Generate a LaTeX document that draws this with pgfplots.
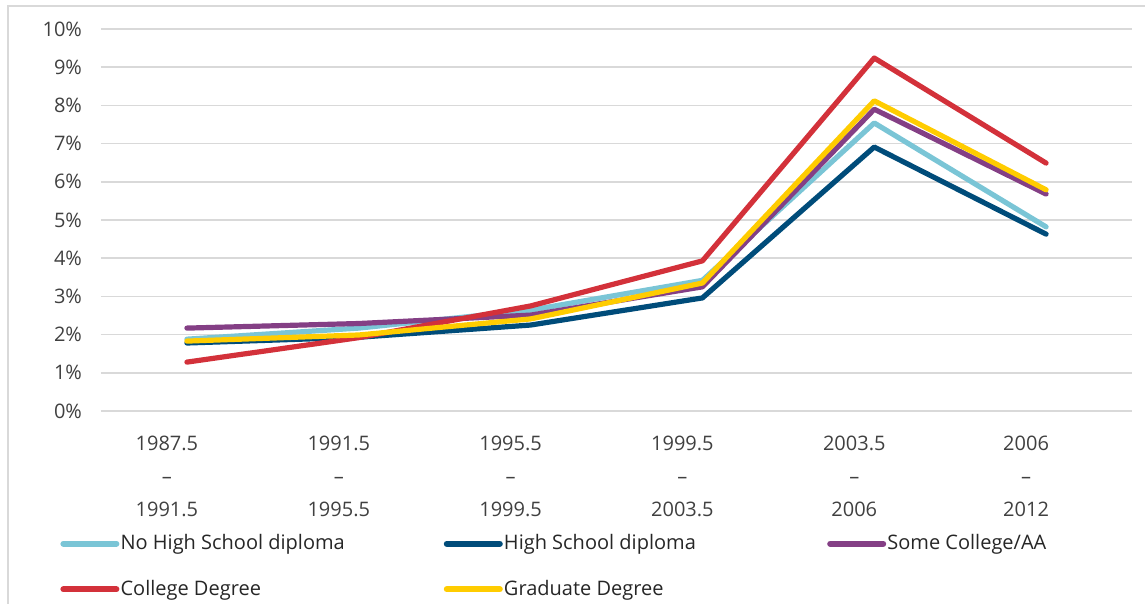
\documentclass[border=0pt]{standalone}
\usepackage{pgfplots}
\pgfplotsset{compat=1.18}
\usepackage{fontspec}
\setmainfont{Open Sans}

\definecolor{nohs}{HTML}{7AC5D6}
\definecolor{hs}{HTML}{004C7A}
\definecolor{somecol}{HTML}{843F85}
\definecolor{college}{HTML}{D3313A}
\definecolor{grad}{HTML}{FFCC00}
\definecolor{gridgray}{HTML}{D9D9D9}
\definecolor{labgray}{HTML}{404040}

\begin{document}
\begin{tikzpicture}
\useasboundingbox (-50.5pt,-96.5pt) rectangle (522pt,205.5pt);
\draw[gridgray, line width=0.8pt] (-46.5pt,-96.5pt) -- (-46.5pt,202.5pt) -- (522pt,202.5pt);
\begin{axis}[
    scale only axis,
    width=515.5pt, height=191pt,
    xmin=-0.5, xmax=5.5,
    ymin=0, ymax=10,
    axis line style={draw=none},
    major tick length=0pt,
    ymajorgrids,
    grid style={gridgray, line width=0.8pt},
    xtick={0,1,2,3,4,5},
    xticklabels={{1987.5\\–\\1991.5},{1991.5\\–\\1995.5},{1995.5\\–\\1999.5},{1999.5\\–\\2003.5},{2003.5\\–\\2006},{2006\\–\\2012}},
    xticklabel style={align=center, font=\fontsize{10}{16.5}\selectfont, text=labgray, xshift=-10pt, yshift=-9pt},
    ytick={0,1,...,10},
    yticklabels={0\%,1\%,2\%,3\%,4\%,5\%,6\%,7\%,8\%,9\%,10\%},
    yticklabel style={font=\fontsize{10}{12}\selectfont, text=labgray, xshift=-6pt},
    every axis plot/.append style={line width=2.6pt, line cap=round, line join=round},
    legend columns=3,
    legend style={draw=none, fill=none, at={(axis description cs:0,0)}, anchor=north west,
        xshift=-20.5pt, yshift=-61pt, font=\fontsize{10}{12}\selectfont, text=black!85,
        row sep=12.5pt, inner sep=0pt,
        nodes={inner sep=0.6pt}},
    legend cell align=left,
    legend image code/.code={\draw[#1, line width=3pt, line cap=round] (0pt,0pt) -- (26.5pt,0pt);},
]
\addplot[nohs] coordinates {(0,1.88) (1,2.17) (2,2.64) (3,3.42) (4,7.54) (5,4.82)};
\addlegendentry{\makebox[161pt][l]{No High School diploma}}
\addplot[hs] coordinates {(0,1.78) (1,1.93) (2,2.25) (3,2.96) (4,6.91) (5,4.63)};
\addlegendentry{\makebox[161pt][l]{High School diploma}}
\addplot[somecol] coordinates {(0,2.17) (1,2.29) (2,2.51) (3,3.25) (4,7.90) (5,5.68)};
\addlegendentry{Some College/AA}
\addplot[college] coordinates {(0,1.28) (1,1.92) (2,2.75) (3,3.93) (4,9.24) (5,6.49)};
\addlegendentry{\makebox[161pt][l]{College Degree}}
\addplot[grad] coordinates {(0,1.83) (1,1.99) (2,2.41) (3,3.35) (4,8.12) (5,5.79)};
\addlegendentry{\makebox[161pt][l]{Graduate Degree}}
\end{axis}
\end{tikzpicture}
\end{document}
